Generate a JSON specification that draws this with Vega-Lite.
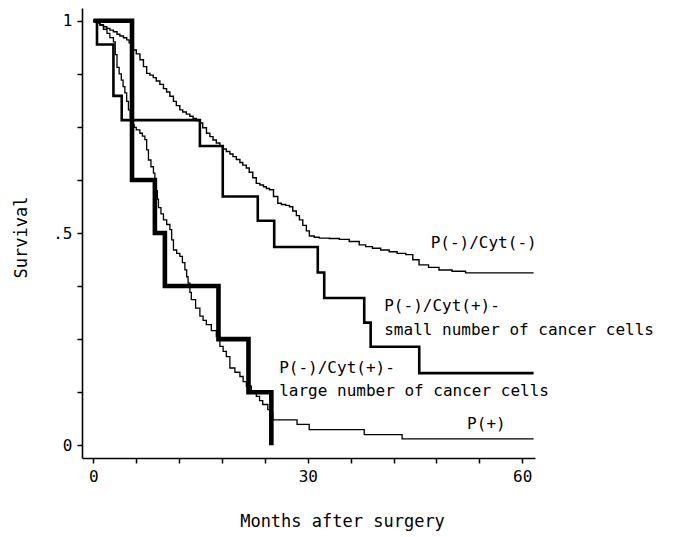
{
  "$schema": "https://vega.github.io/schema/vega-lite/v6.json",
  "autosize": {"type": "none"},
  "padding": {"left": 82, "top": 8, "right": 138, "bottom": 79},
  "width": 453,
  "height": 450,
  "background": "white",
  "config": {
    "view": {"stroke": null},
    "font": "DejaVu Sans Mono",
    "axis": {"grid": false, "domainColor": "black", "tickColor": "black", "labelColor": "black", "titleColor": "black", "domainWidth": 1.6, "tickWidth": 1.5, "tickSize": 5, "labelFont": "DejaVu Sans Mono", "titleFont": "DejaVu Sans Mono", "labelFontSize": 16, "titleFontSize": 17, "titleFontWeight": "normal"}
  },
  "datasets": {
    "curves": [
      {"group": "cytneg", "month": 0, "surv": 1},
      {"group": "cytneg", "month": 0.5, "surv": 0.995},
      {"group": "cytneg", "month": 0.93, "surv": 0.99},
      {"group": "cytneg", "month": 1.4, "surv": 0.986},
      {"group": "cytneg", "month": 1.87, "surv": 0.982},
      {"group": "cytneg", "month": 2.3, "surv": 0.978},
      {"group": "cytneg", "month": 2.79, "surv": 0.974},
      {"group": "cytneg", "month": 3.3, "surv": 0.968},
      {"group": "cytneg", "month": 3.7, "surv": 0.964},
      {"group": "cytneg", "month": 4.2, "surv": 0.96},
      {"group": "cytneg", "month": 4.66, "surv": 0.955},
      {"group": "cytneg", "month": 5.0, "surv": 0.948},
      {"group": "cytneg", "month": 5.36, "surv": 0.94},
      {"group": "cytneg", "month": 5.58, "surv": 0.931},
      {"group": "cytneg", "month": 6.0, "surv": 0.922},
      {"group": "cytneg", "month": 6.51, "surv": 0.908},
      {"group": "cytneg", "month": 7.0, "surv": 0.892},
      {"group": "cytneg", "month": 7.45, "surv": 0.876},
      {"group": "cytneg", "month": 7.9, "surv": 0.872},
      {"group": "cytneg", "month": 8.37, "surv": 0.866},
      {"group": "cytneg", "month": 8.8, "surv": 0.858},
      {"group": "cytneg", "month": 9.3, "surv": 0.85},
      {"group": "cytneg", "month": 9.8, "surv": 0.84},
      {"group": "cytneg", "month": 10.24, "surv": 0.832},
      {"group": "cytneg", "month": 10.7, "surv": 0.822},
      {"group": "cytneg", "month": 11.2, "surv": 0.81},
      {"group": "cytneg", "month": 11.6, "surv": 0.8},
      {"group": "cytneg", "month": 12.09, "surv": 0.79},
      {"group": "cytneg", "month": 12.5, "surv": 0.785},
      {"group": "cytneg", "month": 13.0, "surv": 0.78},
      {"group": "cytneg", "month": 13.5, "surv": 0.775},
      {"group": "cytneg", "month": 13.95, "surv": 0.77},
      {"group": "cytneg", "month": 14.4, "surv": 0.765},
      {"group": "cytneg", "month": 14.88, "surv": 0.759},
      {"group": "cytneg", "month": 15.3, "surv": 0.748},
      {"group": "cytneg", "month": 15.82, "surv": 0.735},
      {"group": "cytneg", "month": 16.3, "surv": 0.727},
      {"group": "cytneg", "month": 16.74, "surv": 0.719},
      {"group": "cytneg", "month": 17.2, "surv": 0.712},
      {"group": "cytneg", "month": 17.7, "surv": 0.705},
      {"group": "cytneg", "month": 18.13, "surv": 0.698},
      {"group": "cytneg", "month": 18.6, "surv": 0.692},
      {"group": "cytneg", "month": 19.1, "surv": 0.686},
      {"group": "cytneg", "month": 19.53, "surv": 0.68},
      {"group": "cytneg", "month": 20.0, "surv": 0.673},
      {"group": "cytneg", "month": 20.5, "surv": 0.666},
      {"group": "cytneg", "month": 20.9, "surv": 0.66},
      {"group": "cytneg", "month": 21.39, "surv": 0.653},
      {"group": "cytneg", "month": 21.8, "surv": 0.643},
      {"group": "cytneg", "month": 22.3, "surv": 0.63},
      {"group": "cytneg", "month": 22.79, "surv": 0.617},
      {"group": "cytneg", "month": 23.3, "surv": 0.613},
      {"group": "cytneg", "month": 23.8, "surv": 0.609},
      {"group": "cytneg", "month": 24.2, "surv": 0.605},
      {"group": "cytneg", "month": 24.64, "surv": 0.602},
      {"group": "cytneg", "month": 25.2, "surv": 0.586},
      {"group": "cytneg", "month": 25.8, "surv": 0.57},
      {"group": "cytneg", "month": 26.3, "surv": 0.567},
      {"group": "cytneg", "month": 26.9, "surv": 0.565},
      {"group": "cytneg", "month": 27.43, "surv": 0.562},
      {"group": "cytneg", "month": 27.9, "surv": 0.552},
      {"group": "cytneg", "month": 28.4, "surv": 0.541},
      {"group": "cytneg", "month": 28.83, "surv": 0.531},
      {"group": "cytneg", "month": 29.3, "surv": 0.518},
      {"group": "cytneg", "month": 29.8, "surv": 0.505},
      {"group": "cytneg", "month": 30.22, "surv": 0.493},
      {"group": "cytneg", "month": 30.9, "surv": 0.49},
      {"group": "cytneg", "month": 31.62, "surv": 0.488},
      {"group": "cytneg", "month": 33.0, "surv": 0.487},
      {"group": "cytneg", "month": 34.41, "surv": 0.485},
      {"group": "cytneg", "month": 35.8, "surv": 0.48},
      {"group": "cytneg", "month": 37.2, "surv": 0.472},
      {"group": "cytneg", "month": 38.1, "surv": 0.468},
      {"group": "cytneg", "month": 39.05, "surv": 0.464},
      {"group": "cytneg", "month": 40.2, "surv": 0.46},
      {"group": "cytneg", "month": 41.4, "surv": 0.456},
      {"group": "cytneg", "month": 42.5, "surv": 0.452},
      {"group": "cytneg", "month": 43.71, "surv": 0.449},
      {"group": "cytneg", "month": 44.7, "surv": 0.437},
      {"group": "cytneg", "month": 45.57, "surv": 0.425},
      {"group": "cytneg", "month": 46.9, "surv": 0.419},
      {"group": "cytneg", "month": 48.36, "surv": 0.413},
      {"group": "cytneg", "month": 50.2, "surv": 0.41},
      {"group": "cytneg", "month": 52.08, "surv": 0.406},
      {"group": "cytneg", "month": 61.6, "surv": 0.406},
      {"group": "small", "month": 0, "surv": 1},
      {"group": "small", "month": 0.5, "surv": 0.944},
      {"group": "small", "month": 2.8, "surv": 0.823},
      {"group": "small", "month": 3.96, "surv": 0.766},
      {"group": "small", "month": 14.9, "surv": 0.705},
      {"group": "small", "month": 18.1, "surv": 0.586},
      {"group": "small", "month": 23.0, "surv": 0.529},
      {"group": "small", "month": 25.3, "surv": 0.467},
      {"group": "small", "month": 31.4, "surv": 0.407},
      {"group": "small", "month": 32.3, "surv": 0.347},
      {"group": "small", "month": 37.9, "surv": 0.289},
      {"group": "small", "month": 38.8, "surv": 0.232},
      {"group": "small", "month": 45.6, "surv": 0.17},
      {"group": "small", "month": 61.6, "surv": 0.17},
      {"group": "large", "month": 0, "surv": 1},
      {"group": "large", "month": 5.4, "surv": 0.625},
      {"group": "large", "month": 8.6, "surv": 0.5},
      {"group": "large", "month": 10.0, "surv": 0.375},
      {"group": "large", "month": 17.5, "surv": 0.25},
      {"group": "large", "month": 21.7, "surv": 0.125},
      {"group": "large", "month": 24.9, "surv": 0},
      {"group": "pos", "month": 0, "surv": 1},
      {"group": "pos", "month": 0.5, "surv": 0.995},
      {"group": "pos", "month": 0.9, "surv": 0.99},
      {"group": "pos", "month": 1.4, "surv": 0.98},
      {"group": "pos", "month": 1.9, "surv": 0.97},
      {"group": "pos", "month": 2.3, "surv": 0.96},
      {"group": "pos", "month": 2.8, "surv": 0.95},
      {"group": "pos", "month": 3.05, "surv": 0.92},
      {"group": "pos", "month": 3.3, "surv": 0.89},
      {"group": "pos", "month": 3.6, "surv": 0.875},
      {"group": "pos", "month": 3.9, "surv": 0.86},
      {"group": "pos", "month": 4.15, "surv": 0.845},
      {"group": "pos", "month": 4.4, "surv": 0.83},
      {"group": "pos", "month": 4.65, "surv": 0.81},
      {"group": "pos", "month": 4.9, "surv": 0.79},
      {"group": "pos", "month": 5.15, "surv": 0.772},
      {"group": "pos", "month": 5.4, "surv": 0.755},
      {"group": "pos", "month": 5.7, "surv": 0.749},
      {"group": "pos", "month": 6.0, "surv": 0.743},
      {"group": "pos", "month": 6.5, "surv": 0.735},
      {"group": "pos", "month": 6.85, "surv": 0.728},
      {"group": "pos", "month": 7.2, "surv": 0.72},
      {"group": "pos", "month": 7.45, "surv": 0.696},
      {"group": "pos", "month": 7.7, "surv": 0.672},
      {"group": "pos", "month": 8.05, "surv": 0.656},
      {"group": "pos", "month": 8.4, "surv": 0.641},
      {"group": "pos", "month": 8.6, "surv": 0.62},
      {"group": "pos", "month": 8.8, "surv": 0.6},
      {"group": "pos", "month": 8.95, "surv": 0.58},
      {"group": "pos", "month": 9.1, "surv": 0.56},
      {"group": "pos", "month": 9.45, "surv": 0.545},
      {"group": "pos", "month": 9.8, "surv": 0.531},
      {"group": "pos", "month": 10.25, "surv": 0.52},
      {"group": "pos", "month": 10.7, "surv": 0.508},
      {"group": "pos", "month": 10.95, "surv": 0.484},
      {"group": "pos", "month": 11.2, "surv": 0.46},
      {"group": "pos", "month": 11.65, "surv": 0.452},
      {"group": "pos", "month": 12.1, "surv": 0.445},
      {"group": "pos", "month": 12.45, "surv": 0.43},
      {"group": "pos", "month": 12.8, "surv": 0.413},
      {"group": "pos", "month": 13.05, "surv": 0.397},
      {"group": "pos", "month": 13.25, "surv": 0.382},
      {"group": "pos", "month": 13.5, "surv": 0.36},
      {"group": "pos", "month": 13.7, "surv": 0.343},
      {"group": "pos", "month": 14.3, "surv": 0.323},
      {"group": "pos", "month": 14.9, "surv": 0.304},
      {"group": "pos", "month": 15.35, "surv": 0.294},
      {"group": "pos", "month": 15.8, "surv": 0.284},
      {"group": "pos", "month": 16.5, "surv": 0.27},
      {"group": "pos", "month": 17.2, "surv": 0.256},
      {"group": "pos", "month": 17.7, "surv": 0.233},
      {"group": "pos", "month": 18.15, "surv": 0.221},
      {"group": "pos", "month": 18.6, "surv": 0.209},
      {"group": "pos", "month": 19.1, "surv": 0.182},
      {"group": "pos", "month": 19.8, "surv": 0.172},
      {"group": "pos", "month": 20.5, "surv": 0.162},
      {"group": "pos", "month": 20.95, "surv": 0.15},
      {"group": "pos", "month": 21.4, "surv": 0.139},
      {"group": "pos", "month": 22.1, "surv": 0.127},
      {"group": "pos", "month": 22.8, "surv": 0.115},
      {"group": "pos", "month": 23.25, "surv": 0.105},
      {"group": "pos", "month": 23.7, "surv": 0.096},
      {"group": "pos", "month": 24.4, "surv": 0.084},
      {"group": "pos", "month": 24.8, "surv": 0.076},
      {"group": "pos", "month": 25.1, "surv": 0.06},
      {"group": "pos", "month": 28.5, "surv": 0.049},
      {"group": "pos", "month": 30.2, "surv": 0.037},
      {"group": "pos", "month": 37.9, "surv": 0.025},
      {"group": "pos", "month": 43.2, "surv": 0.015},
      {"group": "pos", "month": 61.6, "surv": 0.015}
    ],
    "labels": [
      {"text": "P(-)/Cyt(-)", "month": 47.2, "surv": 0.477},
      {"text": "P(-)/Cyt(+)-", "month": 40.7, "surv": 0.327},
      {"text": "small number of cancer cells", "month": 40.7, "surv": 0.271},
      {"text": "P(-)/Cyt(+)-", "month": 26.0, "surv": 0.182},
      {"text": "large number of cancer cells", "month": 26.0, "surv": 0.127},
      {"text": "P(+)", "month": 52.3, "surv": 0.049}
    ]
  },
  "encoding": {
    "x": {"field": "month", "type": "quantitative", "scale": {"domain": [-1.6, 61.8], "nice": false, "zero": false},
      "axis": {"title": "Months after surgery", "values": [0, 6, 12, 18, 24, 30, 36, 42, 48, 54, 60], "labelExpr": "datum.value == 0 || datum.value == 30 || datum.value == 60 ? datum.label : ''", "labelPadding": 5, "titleX": 260, "titleY": 55, "titleBaseline": "top"}},
    "y": {"field": "surv", "type": "quantitative", "scale": {"domain": [-0.03, 1.03], "nice": false, "zero": false},
      "axis": {"title": "Survival", "values": [0, 0.125, 0.25, 0.375, 0.5, 0.625, 0.75, 0.875, 1], "labelExpr": "datum.value == 0 ? '0' : datum.value == 0.5 ? '.5' : datum.value == 1 ? '1' : ''", "labelPadding": 5, "titleX": -61, "titleY": 229, "titleBaseline": "middle"}}
  },
  "layer": [
    {
      "data": {"name": "curves"},
      "transform": [{"filter": "datum.group == 'cytneg'"}],
      "mark": {"type": "line", "interpolate": "step-after", "color": "black", "strokeWidth": 1.4, "strokeJoin": "miter", "strokeCap": "butt"}
    },
    {
      "data": {"name": "curves"},
      "transform": [{"filter": "datum.group == 'pos'"}],
      "mark": {"type": "line", "interpolate": "step-after", "color": "black", "strokeWidth": 1.3, "strokeJoin": "miter", "strokeCap": "butt"}
    },
    {
      "data": {"name": "curves"},
      "transform": [{"filter": "datum.group == 'small'"}],
      "mark": {"type": "line", "interpolate": "step-after", "color": "black", "strokeWidth": 2.6, "strokeJoin": "miter", "strokeCap": "butt"}
    },
    {
      "data": {"name": "curves"},
      "transform": [{"filter": "datum.group == 'large'"}],
      "mark": {"type": "line", "interpolate": "step-after", "color": "black", "strokeWidth": 4.6, "strokeJoin": "miter", "strokeCap": "butt"}
    },
    {
      "data": {"name": "labels"},
      "mark": {"type": "text", "align": "left", "baseline": "middle", "font": "DejaVu Sans Mono", "fontSize": 16, "color": "black"},
      "encoding": {
        "text": {"field": "text"}
      }
    }
  ]
}
